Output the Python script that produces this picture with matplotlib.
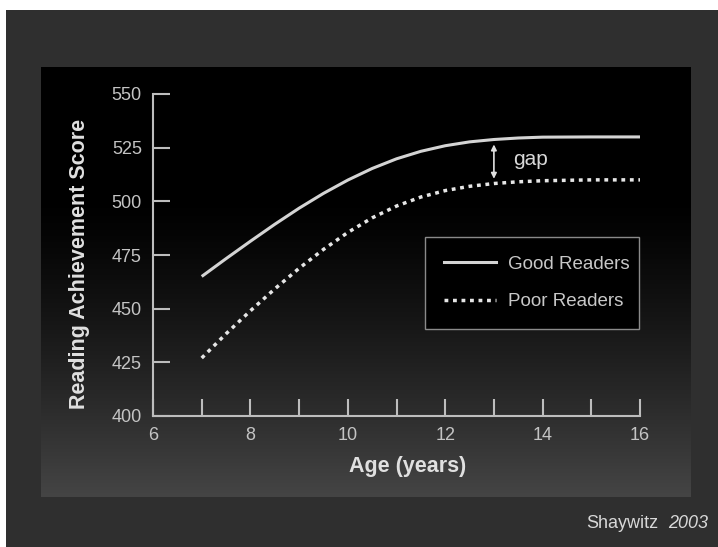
import numpy as np
import matplotlib
matplotlib.use("Agg")
import matplotlib.pyplot as plt
from matplotlib.lines import Line2D

plt.rcParams['font.family'] = ['Liberation Sans', 'DejaVu Sans']

# ---- data ----
age = [7, 7.5, 8, 8.5, 9, 9.5, 10, 10.5, 11, 11.5, 12, 12.5, 13, 13.5, 14, 15, 16]
good_readers = [465, 473.3, 481.4, 489.3, 496.8, 503.7, 509.9, 515.3, 519.8, 523.3,
                525.9, 527.7, 528.8, 529.5, 529.9, 530, 530]
poor_readers = [427, 438.3, 449, 459.2, 468.8, 477.6, 485.5, 492.3, 497.8, 502.0,
                505.0, 507.0, 508.3, 509.1, 509.6, 510, 510]
x_ticks = [6, 8, 10, 12, 14, 16]
x_minor = [7, 9, 11, 13, 15]
y_ticks = [400, 425, 450, 475, 500, 525, 550]
series_names = ["Good Readers", "Poor Readers"]
gap_age = 13
gap_top, gap_bottom = 526.5, 510.5

W, H = 718, 547
fig = plt.figure(figsize=(W / 100, H / 100), dpi=100)
fig.patch.set_facecolor('#2f2f2f')

# white strips at top and left
fig.add_artist(plt.Rectangle((0, 1 - 10 / H), 1, 10 / H, transform=fig.transFigure,
                             facecolor='white', edgecolor='none', zorder=0))
fig.add_artist(plt.Rectangle((0, 0), 6 / W, 1, transform=fig.transFigure,
                             facecolor='white', edgecolor='none', zorder=0))

# inner panel with vertical gradient (black top -> dark gray bottom)
px0, px1, py0, py1 = 41, 691, 67, 497
bg = fig.add_axes([px0 / W, 1 - py1 / H, (px1 - px0) / W, (py1 - py0) / H], zorder=0)
t = np.linspace(0, 1, 256)
grad = 0.27 * np.clip((t - 0.3) / 0.7, 0, 1) ** 1.3
img = np.repeat(grad[:, None, None], 3, axis=2).repeat(4, axis=1)
bg.imshow(img, aspect='auto', extent=[0, 1, 0, 1], origin='upper', interpolation='bilinear')
bg.axis('off')

# main axes
ax = fig.add_axes([153 / W, 1 - 416 / H, 487 / W, 322 / H], zorder=1)
ax.patch.set_alpha(0)

line_col = '#d4d4d4'
dot_col = '#e6e6e6'
dash = (0, (1.1, 1.35))
ax.plot(age, good_readers, color=line_col, lw=2.2, solid_capstyle='butt', label=series_names[0])
ax.plot(age, poor_readers, color=dot_col, lw=2.5, linestyle=dash,
        dash_capstyle='butt', label=series_names[1])

ax.set_xlim(6, 16)
ax.set_ylim(400, 550)
ax.set_xticks(x_ticks)
ax.set_xticks(x_minor, minor=True)
ax.set_yticks(y_ticks)

spine_col = '#bdbdbd'
for s in ['top', 'right']:
    ax.spines[s].set_visible(False)
for s in ['left', 'bottom']:
    ax.spines[s].set_color(spine_col)
    ax.spines[s].set_linewidth(1.5)

tick_col = '#c4c4c4'
ax.tick_params(axis='both', which='both', direction='in', length=12, width=1.5,
               color=spine_col, labelcolor=tick_col, labelsize=13, pad=8)

ax.set_xlabel('Age (years)', fontsize=15.5, fontweight='bold', color='#e0e0e0')
ax.set_ylabel('Reading Achievement Score', fontsize=15.5, fontweight='bold', color='#e0e0e0')
ax.xaxis.set_label_coords(0.522, -0.125)
ax.yaxis.set_label_coords(-0.13, 0.472)

# gap annotation
ax.annotate('', xy=(gap_age, gap_top), xytext=(gap_age, gap_bottom),
            arrowprops=dict(arrowstyle='<|-|>', color='#e0e0e0', lw=1.2,
                            mutation_scale=8, shrinkA=0, shrinkB=0))
ax.text(13.4, (gap_top + gap_bottom) / 2 + 1, 'gap', color='#d8d8d8', fontsize=15,
        va='center', ha='left')

# legend
handles = [Line2D([], [], color=line_col, lw=2.2),
           Line2D([], [], color=dot_col, lw=2.5, linestyle=dash)]
x0 = (425 - 153) / 487
x1 = (639 - 153) / 487
y1 = (416 - 237) / 322
y0 = (416 - 329) / 322
leg = ax.legend(handles, series_names, loc='center left',
                bbox_to_anchor=(x0, y0, x1 - x0, y1 - y0), mode='expand',
                frameon=True, fancybox=False, facecolor='black', edgecolor='#8a8a8a',
                framealpha=1, fontsize=13.5, handlelength=2.8, handletextpad=0.6,
                labelspacing=1.1, borderpad=1.0, borderaxespad=0)
leg.get_frame().set_linewidth(1.0)
for txt in leg.get_texts():
    txt.set_color('#c8c8c8')

# credit
fig.text(658 / W, 1 - 523 / H, 'Shaywitz', color='#d8d8d8', fontsize=13,
         ha='right', va='center')
fig.text(708 / W, 1 - 523 / H, '2003', color='#d8d8d8', fontsize=13,
         ha='right', va='center', style='italic')

fig.savefig('out.png', dpi=100, facecolor=fig.get_facecolor())
